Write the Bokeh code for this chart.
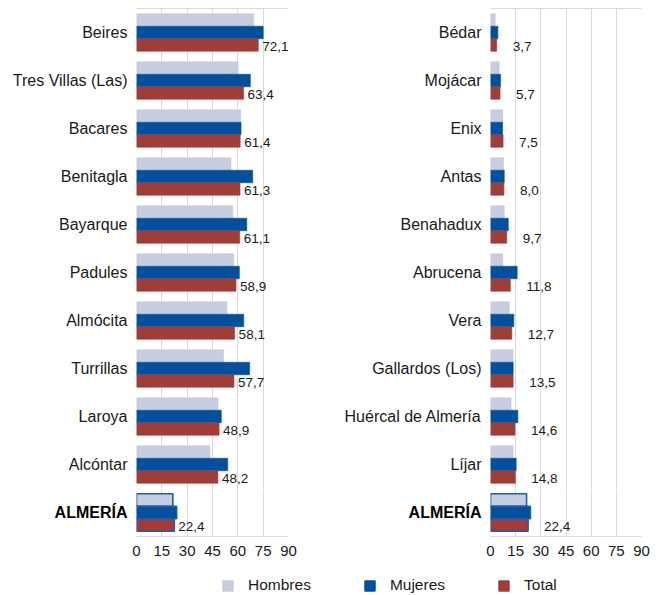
from bokeh.plotting import figure
from bokeh.models import ColumnDataSource, Range1d, FactorRange, Legend, LegendItem
from bokeh.transform import dodge
from bokeh.layouts import column, row
from bokeh.core.properties import value
from bokeh.embed import file_html
from bokeh.resources import INLINE

# ---- data ----
left_categories = ["Beires", "Tres Villas (Las)", "Bacares", "Benitagla", "Bayarque", "Padules",
                   "Almócita", "Turrillas", "Laroya", "Alcóntar", "ALMERÍA"]
left_hombres = [69.4, 60.1, 61.7, 56.0, 57.0, 57.6, 53.6, 51.6, 48.3, 43.5, 21.5]
left_mujeres = [75.0, 67.4, 61.9, 68.8, 65.3, 60.9, 63.5, 67.0, 50.2, 54.0, 23.8]
left_total = [72.1, 63.4, 61.4, 61.3, 61.1, 58.9, 58.1, 57.7, 48.9, 48.2, 22.4]

right_categories = ["Bédar", "Mojácar", "Enix", "Antas", "Benahadux", "Abrucena", "Vera",
                    "Gallardos (Los)", "Huércal de Almería", "Líjar", "ALMERÍA"]
right_hombres = [2.8, 5.2, 7.4, 7.8, 8.2, 7.4, 11.2, 13.5, 12.3, 13.5, 21.5]
right_mujeres = [4.4, 6.0, 7.2, 8.2, 10.6, 15.9, 13.9, 13.5, 16.3, 15.3, 23.8]
right_total = [3.7, 5.7, 7.5, 8.0, 9.7, 11.8, 12.7, 13.5, 14.6, 14.8, 22.4]

x_ticks = [0, 15, 30, 45, 60, 75, 90]
series_names = ["Hombres", "Mujeres", "Total"]
highlight = "ALMERÍA"

# ---- style ----
C_H = "#c5cde1"
C_M = "#00509d"
C_T = "#a03d37"
EDGE = "#1f5fa8"
GRID = "#d9d9d9"
FONT = "Liberation Sans"
TXT = "#1a1a1a"
BAR_H = 0.26
ROW_PX = 48


def sub_panel(cats, h, m, t, border_left, frame_w, border_right, label_off, is_total_row):
    n = len(cats)
    p = figure(y_range=FactorRange(*reversed(cats)), x_range=Range1d(0, 90),
               frame_width=frame_w, frame_height=ROW_PX * n,
               min_border_left=border_left, min_border_right=border_right,
               min_border_top=0 if is_total_row else 8,
               min_border_bottom=32 if is_total_row else 0,
               x_axis_location="below" if is_total_row else "above",
               output_backend="svg", toolbar_location=None)
    labels = [f"{v:.1f}".replace(".", ",") for v in t]
    src = ColumnDataSource(dict(cat=cats, h=h, m=m, t=t, lbl=labels))
    lw = 1.6 if is_total_row else 0.6
    for col, fill, off in (("h", C_H, BAR_H), ("m", C_M, 0), ("t", C_T, -BAR_H)):
        p.hbar(y=dodge("cat", off, range=p.y_range), right=col, left=0, height=BAR_H,
               fill_color=fill, line_color=EDGE if is_total_row else fill,
               line_width=lw, source=src)
    p.text(x="t", y=dodge("cat", -BAR_H, range=p.y_range), text="lbl", source=src,
           x_offset=label_off, y_offset=2, text_align="left", text_baseline="middle",
           text_font=value(FONT), text_font_size="13.5px", text_color=TXT)

    p.outline_line_color = None
    p.ygrid.grid_line_color = None
    p.xgrid.grid_line_color = GRID
    p.xgrid.grid_line_width = 1
    p.xaxis.ticker = x_ticks
    for ax in (p.xaxis, p.yaxis):
        ax.major_tick_line_color = None
        ax.minor_tick_line_color = None
        ax.major_tick_in = 0
        ax.major_tick_out = 0
        ax.major_label_text_font = FONT
        ax.major_label_text_color = TXT
    p.yaxis.axis_line_color = None
    p.xaxis.axis_line_color = GRID
    p.yaxis.major_label_text_font_size = "16px"
    p.yaxis.major_label_standoff = 9
    if is_total_row:
        p.xaxis.major_label_text_font_size = "15px"
        p.xaxis.major_label_standoff = 9
        p.yaxis.major_label_text_font_style = "bold"
        p.yaxis.major_label_text_color = "#000000"
    else:
        p.xaxis.major_label_text_font_size = "0px"
        p.xaxis.major_label_text_alpha = 0
        p.xaxis.major_label_standoff = 0
    return p


def panel(cats, h, m, t, border_left, frame_w, border_right, label_off):
    k = cats.index(highlight)
    top = sub_panel(cats[:k], h[:k], m[:k], t[:k], border_left, frame_w, border_right, label_off, False)
    bot = sub_panel(cats[k:], h[k:], m[k:], t[k:], border_left, frame_w, border_right, label_off, True)
    return top, bot


t1, b1 = panel(left_categories, left_hombres, left_mujeres, left_total, 136, 152, 30, 4)
t2, b2 = panel(right_categories, right_hombres, right_mujeres, right_total, 172, 151, 16, 16)

leg = figure(width=657, height=27, x_range=Range1d(0, 1), y_range=Range1d(0, 1),
             x_axis_type=None, y_axis_type=None, min_border=0,
             output_backend="svg", toolbar_location=None)
leg.outline_line_color = None
leg.xgrid.grid_line_color = None
leg.ygrid.grid_line_color = None
items = []
for name, col in zip(series_names, [C_H, C_M, C_T]):
    r = leg.rect(x=[-5], y=[-5], width=1, height=1, fill_color=col, line_color=col)
    items.append(LegendItem(label=name, renderers=[r]))
legend = Legend(items=items, orientation="horizontal", location=(221, 1),
                padding=0, margin=0, border_line_color=None, background_fill_alpha=0,
                glyph_width=13, glyph_height=13, label_standoff=14, spacing=52,
                label_height=13, label_text_font=FONT, label_text_font_size="15.5px",
                label_text_color=TXT)
leg.add_layout(legend)

layout = column(row(t1, t2), row(b1, b2), leg)
open("out.html", "w").write(file_html(layout, INLINE))
